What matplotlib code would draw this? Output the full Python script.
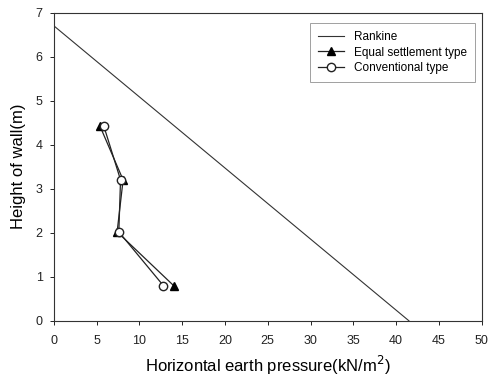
import matplotlib
matplotlib.use("Agg")
import matplotlib.pyplot as plt

plt.rcParams['font.family'] = ['Liberation Sans', 'DejaVu Sans']

rankine_x = [0, 41.5]
rankine_y = [6.7, 0]

equal_x = [5.4, 8.1, 7.4, 14.0]
equal_y = [4.42, 3.2, 2.02, 0.8]

conv_x = [5.85, 7.8, 7.6, 12.8]
conv_y = [4.42, 3.2, 2.02, 0.8]

fig = plt.figure(figsize=(4.89, 3.81), dpi=100)
ax = fig.add_axes([0.110, 0.158, 0.875, 0.809])

ax.plot(rankine_x, rankine_y, color='#333333', lw=0.8, label='Rankine')
ax.plot(equal_x, equal_y, color='#222222', lw=0.9, marker='^', ms=6,
        mfc='black', mec='black', label='Equal settlement type')
ax.plot(conv_x, conv_y, color='#222222', lw=0.9, marker='o', ms=6,
        mfc='white', mec='#222222', label='Conventional type')

ax.set_xlim(0, 50)
ax.set_ylim(0, 7)
ax.set_xticks(range(0, 51, 5))
ax.set_yticks(range(0, 8))
ax.tick_params(direction='out', length=3, width=0.7, labelsize=9, colors='#222222')
ax.tick_params(axis='x', pad=7)
ax.tick_params(axis='y', pad=5)
ax.tick_params(top=False, right=False)
for s in ax.spines.values():
    s.set_linewidth(0.8)
    s.set_color('#333333')

ax.set_xlabel('Horizontal earth pressure(kN/m$^2$)', fontsize=12, labelpad=5)
ax.set_ylabel('Height of wall(m)', fontsize=12, labelpad=7)

leg = ax.legend(loc='upper right', fontsize=8.5, frameon=True, fancybox=False,
                edgecolor='#888888', borderpad=0.7, handlelength=2.2,
                labelspacing=0.3, borderaxespad=0,
                bbox_to_anchor=(0.984, 0.967))
leg.get_frame().set_linewidth(0.7)

fig.savefig('out.png', dpi=100)
